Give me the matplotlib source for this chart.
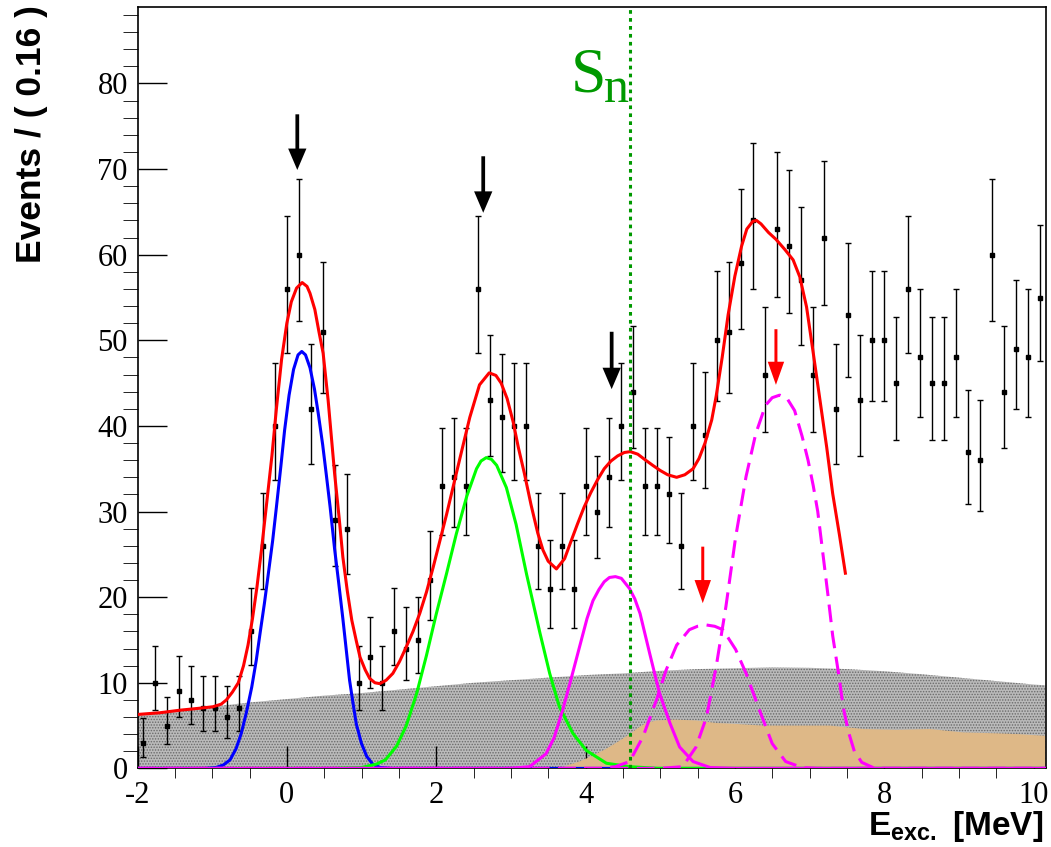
import matplotlib
matplotlib.use("Agg")
import matplotlib.pyplot as plt
import numpy as np

# histogram: events per 0.16 MeV bin, first bin starts at -2 MeV
x_min = -2.0
bin_width = 0.16
counts = [3, 10, 5, 9, 8, 7, 7, 6, 7, 16,
          26, 40, 56, 60, 42, 51, 29, 28, 10, 13,
          10, 16, 14, 15, 22, 33, 34, 33, 56, 43,
          41, 40, 40, 26, 21, 26, 21, 33, 30, 34,
          40, 44, 33, 33, 32, 26, 40, 39, 50, 51,
          59, 64, 46, 63, 61, 57, 46, 62, 42, 53,
          43, 50, 50, 45, 56, 48, 45, 45, 48, 37,
          36, 60, 44, 49, 48, 55]

# total fit (red)
total_x = [-2.0, -1.7, -1.43, -1.2, -0.99, -0.88, -0.81, -0.73, -0.65, -0.58,
           -0.52, -0.46, -0.40, -0.34, -0.27, -0.20, -0.14, -0.07, 0.0, 0.06,
           0.13, 0.205, 0.27, 0.31, 0.375, 0.43, 0.486, 0.553, 0.64, 0.70,
           0.75, 0.81, 0.87, 0.93, 0.98, 1.05, 1.11, 1.18, 1.245, 1.33,
           1.42, 1.51, 1.60, 1.69, 1.78, 1.87, 1.96, 2.05, 2.14, 2.23,
           2.32, 2.45, 2.58, 2.71, 2.80, 2.87, 2.95, 3.03, 3.10, 3.18,
           3.27, 3.36, 3.43, 3.50, 3.61, 3.72, 3.80, 3.89, 3.98, 4.07,
           4.16, 4.25, 4.34, 4.43, 4.52, 4.60, 4.70, 4.79, 4.90, 5.00,
           5.10, 5.22, 5.33, 5.44, 5.52, 5.60, 5.69, 5.75, 5.83, 5.91,
           6.00, 6.09, 6.16, 6.24, 6.29, 6.35, 6.45, 6.55, 6.67, 6.78,
           6.87, 6.96, 7.05, 7.14, 7.23, 7.31, 7.40, 7.48]
total_y = [6.3, 6.5, 6.8, 7.0, 7.2, 7.5, 8.0, 8.9, 10.0, 12.0,
           14.4, 17.5, 21.2, 25.5, 31.0, 36.5, 42.0, 47.8, 52.0, 54.5,
           56.1, 56.75, 56.3, 55.5, 53.6, 51.0, 48.5, 43.0, 34.4, 29.3,
           24.7, 20.7, 17.3, 14.9, 13.0, 11.5, 10.5, 10.0, 9.9, 10.3,
           11.1, 12.5, 14.2, 16.0, 18.1, 20.6, 23.5, 26.6, 29.7, 33.0,
           36.3, 41.0, 44.8, 46.2, 45.9, 45.0, 43.2, 40.5, 37.5, 34.5,
           30.8, 27.5, 25.5, 24.2, 23.3, 24.5, 26.4, 28.5, 30.5, 32.2,
           33.7, 35.0, 35.9, 36.5, 36.9, 37.0, 36.7, 36.1, 35.4, 34.8,
           34.3, 34.0, 34.3, 35.0, 36.2, 38.0, 40.7, 43.5, 48.0, 53.0,
           57.5, 61.0, 63.0, 63.9, 64.0, 63.6, 62.6, 61.8, 60.6, 59.4,
           57.4, 53.9, 48.5, 43.0, 37.5, 32.1, 27.3, 22.8]

# ground state peak (blue)
blue_x = [-2.0, -1.1, -0.95, -0.85, -0.76, -0.68, -0.61, -0.54, -0.47, -0.41,
          -0.36, -0.30, -0.25, -0.19, -0.14, -0.08, -0.03, 0.03, 0.09, 0.15,
          0.20, 0.25, 0.31, 0.37, 0.42, 0.48, 0.53, 0.58, 0.64, 0.69,
          0.75, 0.80, 0.84, 0.89, 0.93, 1.00, 1.07, 1.15, 1.25, 1.40, 10.16]
blue_y = [0, 0, 0.1, 0.4, 1.0, 2.3, 4.1, 6.6, 9.5, 12.6,
          15.7, 19.3, 22.6, 26.6, 30.5, 35.3, 39.5, 43.6, 46.6, 48.3,
          48.7, 48.3, 46.8, 44.3, 41.5, 37.8, 34.2, 30.5, 25.6, 22.0,
          17.5, 13.5, 10.3, 7.4, 5.2, 2.9, 1.4, 0.5, 0.1, 0, 0]

# second peak (green)
green_x = [-2.0, 0.6, 1.0, 1.2, 1.32, 1.47, 1.60, 1.74, 1.87, 2.0,
           2.14, 2.27, 2.41, 2.54, 2.60, 2.67, 2.74, 2.81, 2.94, 3.07,
           3.21, 3.39, 3.52, 3.65, 3.83, 4.01, 4.28, 4.59, 4.97, 10.16]
green_y = [0, 0, 0.1, 0.5, 1.0, 2.6, 5.0, 8.8, 13.2, 18.0,
           22.8, 27.4, 31.8, 35.0, 35.9, 36.3, 36.1, 35.4, 32.8, 28.5,
           22.7, 15.8, 11.1, 7.2, 4.1, 2.1, 0.6, 0.2, 0, 0]

# peak below Sn (magenta solid)
mag_x = [-2.0, 3.0, 3.25, 3.47, 3.58, 3.70, 3.79, 3.92, 4.02, 4.10,
         4.18, 4.25, 4.32, 4.40, 4.48, 4.59, 4.66, 4.73, 4.86, 4.99,
         5.13, 5.26, 5.44, 5.67, 6.0, 10.16]
mag_y = [0, 0, 0.2, 1.7, 3.6, 7.0, 9.9, 14.2, 17.5, 19.6,
         20.9, 21.8, 22.3, 22.4, 22.2, 21.0, 19.8, 18.1, 13.4, 8.8,
         5.3, 2.5, 0.8, 0.1, 0, 0]

# unbound states (magenta dashed)
res1_x = [-2.0, 4.2, 4.4, 4.59, 4.77, 4.95, 5.08, 5.22, 5.39, 5.50,
          5.62, 5.73, 5.84, 6.01, 6.15, 6.33, 6.50, 6.68, 6.90, 7.1, 10.16]
res1_y = [0, 0, 0.2, 0.8, 3.7, 8.0, 11.5, 14.4, 16.2, 16.6,
          16.75, 16.6, 16.2, 13.9, 11.1, 6.8, 2.9, 0.8, 0.1, 0, 0]
res2_x = [-2.0, 5.0, 5.30, 5.48, 5.62, 5.75, 5.88, 6.01, 6.15, 6.28,
          6.41, 6.50, 6.60, 6.70, 6.80, 6.90, 6.98, 7.05, 7.11, 7.18,
          7.25, 7.31, 7.39, 7.45, 7.52, 7.60, 7.70, 7.85, 8.0, 10.16]
res2_y = [0, 0, 0.2, 2.5, 6.0, 11.9, 18.9, 27.0, 34.1, 39.1,
          42.4, 43.3, 43.6, 43.2, 41.8, 38.8, 36.0, 33.0, 30.0, 25.0,
          20.0, 15.5, 11.0, 7.2, 4.3, 2.0, 0.7, 0.1, 0, 0]

# backgrounds
bg_x = [-2.0, -1.5, -1.0, -0.5, 0.0, 0.5, 1.0, 1.5, 2.0, 2.5,
        3.0, 3.5, 4.0, 4.5, 5.0, 5.5, 6.0, 6.5, 7.0, 7.5,
        8.0, 8.5, 9.0, 9.5, 10.0, 10.16]
bg_y = [6.2, 6.7, 7.2, 7.7, 8.1, 8.5, 8.8, 9.2, 9.6, 10.0,
        10.3, 10.6, 10.9, 11.1, 11.4, 11.6, 11.7, 11.8, 11.75, 11.6,
        11.35, 11.0, 10.6, 10.2, 9.8, 9.7]
bg2_x = [3.4, 3.7, 3.92, 4.1, 4.28, 4.45, 4.59, 4.7, 4.81, 4.95,
         5.2, 5.48, 5.75, 6.0, 6.37, 6.8, 7.27, 7.5, 7.72, 8.16,
         8.61, 9.06, 9.5, 9.8, 10.16]
bg2_y = [0, 0.2, 0.8, 1.5, 2.3, 3.2, 4.0, 4.7, 5.3, 5.6,
         5.7, 5.6, 5.3, 5.2, 5.0, 5.0, 5.0, 4.8, 4.6, 4.5,
         4.6, 4.2, 4.1, 4.0, 3.8]

# arrows marking states: x, top, tip
arrows_black = [(0.14, 76.4, 69.9), (2.63, 71.5, 64.9), (4.35, 51.0, 44.3)]
arrows_red = [(5.57, 25.9, 19.3), (6.55, 51.3, 44.8)]
s_n = 4.59

plt.rcParams['mathtext.fontset'] = 'custom'
plt.rcParams['mathtext.rm'] = 'Liberation Sans'
plt.rcParams['mathtext.bf'] = 'Liberation Sans:bold'
plt.rcParams['hatch.linewidth'] = 0.7
plt.rcParams['axes.unicode_minus'] = False

W, H = 1051, 847
fig = plt.figure(figsize=(W / 100, H / 100), dpi=100)
ax = fig.add_axes([137.5 / W, (H - 768.4) / H, 908 / W, 761.1 / H])

counts = np.array(counts, dtype=float)
centers = x_min + bin_width * (np.arange(len(counts)) + 0.5)
# poisson (garwood-like) intervals, as RooFit draws them
err_lo = counts - np.sqrt(np.maximum(counts - 0.25, 0))
err_hi = counts + 1 + np.sqrt(counts + 0.75)

ax.fill_between(bg_x, 0, bg_y, facecolor='#bababa', edgecolor='#6a6a6a',
                hatch='......', linewidth=0, zorder=1)
ax.fill_between(bg2_x, 0, bg2_y, facecolor='#deb887', linewidth=0, zorder=2)

ax.errorbar(centers, counts, yerr=[counts - err_lo, err_hi - counts],
            fmt='s', color='black', ms=2.2, elinewidth=1.0, capsize=2,
            capthick=1.0, zorder=3)

lw = 2.2
ax.plot(total_x, total_y, color='#ff0000', lw=lw, zorder=4)
ax.plot(blue_x, blue_y, color='#0000ff', lw=lw, zorder=5)
ax.plot(green_x, green_y, color='#00ff00', lw=lw, zorder=5)
ax.plot(mag_x, mag_y, color='#ff00ff', lw=lw, zorder=6)
ax.plot(res1_x, res1_y, color='#ff00ff', lw=lw, dashes=(5.8, 2.8), zorder=6)
ax.plot(res2_x, res2_y, color='#ff00ff', lw=lw, dashes=(5.8, 2.8), zorder=6)

ax.axvline(s_n, color='#009900', lw=2.2, dashes=(1.2, 1.4), zorder=7)
ax.text(3.80, 79.1, 'S', fontsize=46, family='Liberation Serif',
        color='#009900', va='baseline', ha='left')
ax.text(4.25, 77.85, 'n', fontsize=36, family='Liberation Serif',
        color='#009900', va='baseline', ha='left')

for x, top, tip in arrows_black:
    ax.arrow(x, top, 0, tip - top, width=0.05, head_width=0.245,
             head_length=2.5, length_includes_head=True, fc='black',
             ec='none', zorder=8)
for x, top, tip in arrows_red:
    ax.arrow(x, top, 0, tip - top, width=0.04, head_width=0.22,
             head_length=2.7, length_includes_head=True, fc='#ff0000',
             ec='none', zorder=8)

ax.set_xlim(-2, 10.16)
ax.set_ylim(0, 88.9)
ax.set_xticks(np.arange(-2, 10.1, 2))
ax.set_xticks(np.arange(-2, 10.1, 0.5), minor=True)
ax.set_yticks(np.arange(0, 81, 10))
ax.set_yticks(np.arange(0, 89, 2), minor=True)
ax.tick_params(axis='both', direction='in', top=False, right=False,
               width=1, labelsize=22)
ax.tick_params(axis='y', which='major', length=21, pad=7)
ax.tick_params(axis='y', which='minor', length=11)
ax.tick_params(axis='x', which='major', length=16, pad=9)
ax.tick_params(axis='x', which='minor', length=7)
for lab in ax.get_xticklabels() + ax.get_yticklabels():
    lab.set_family('Liberation Serif')
for sp in ax.spines.values():
    sp.set_linewidth(1.2)

fig.text(41 / W, 1 - 5 / H, 'Events / ( 0.16 )', rotation=90,
         rotation_mode='anchor', ha='right', va='baseline', fontsize=25.5,
         fontweight='bold', family='Liberation Sans')
fig.text(1043 / W, 1 - 835 / H, r'$\mathbf{E_{exc.}\ [MeV]}$', ha='right',
         va='baseline', fontsize=24)

fig.savefig('out.png', dpi=100)
